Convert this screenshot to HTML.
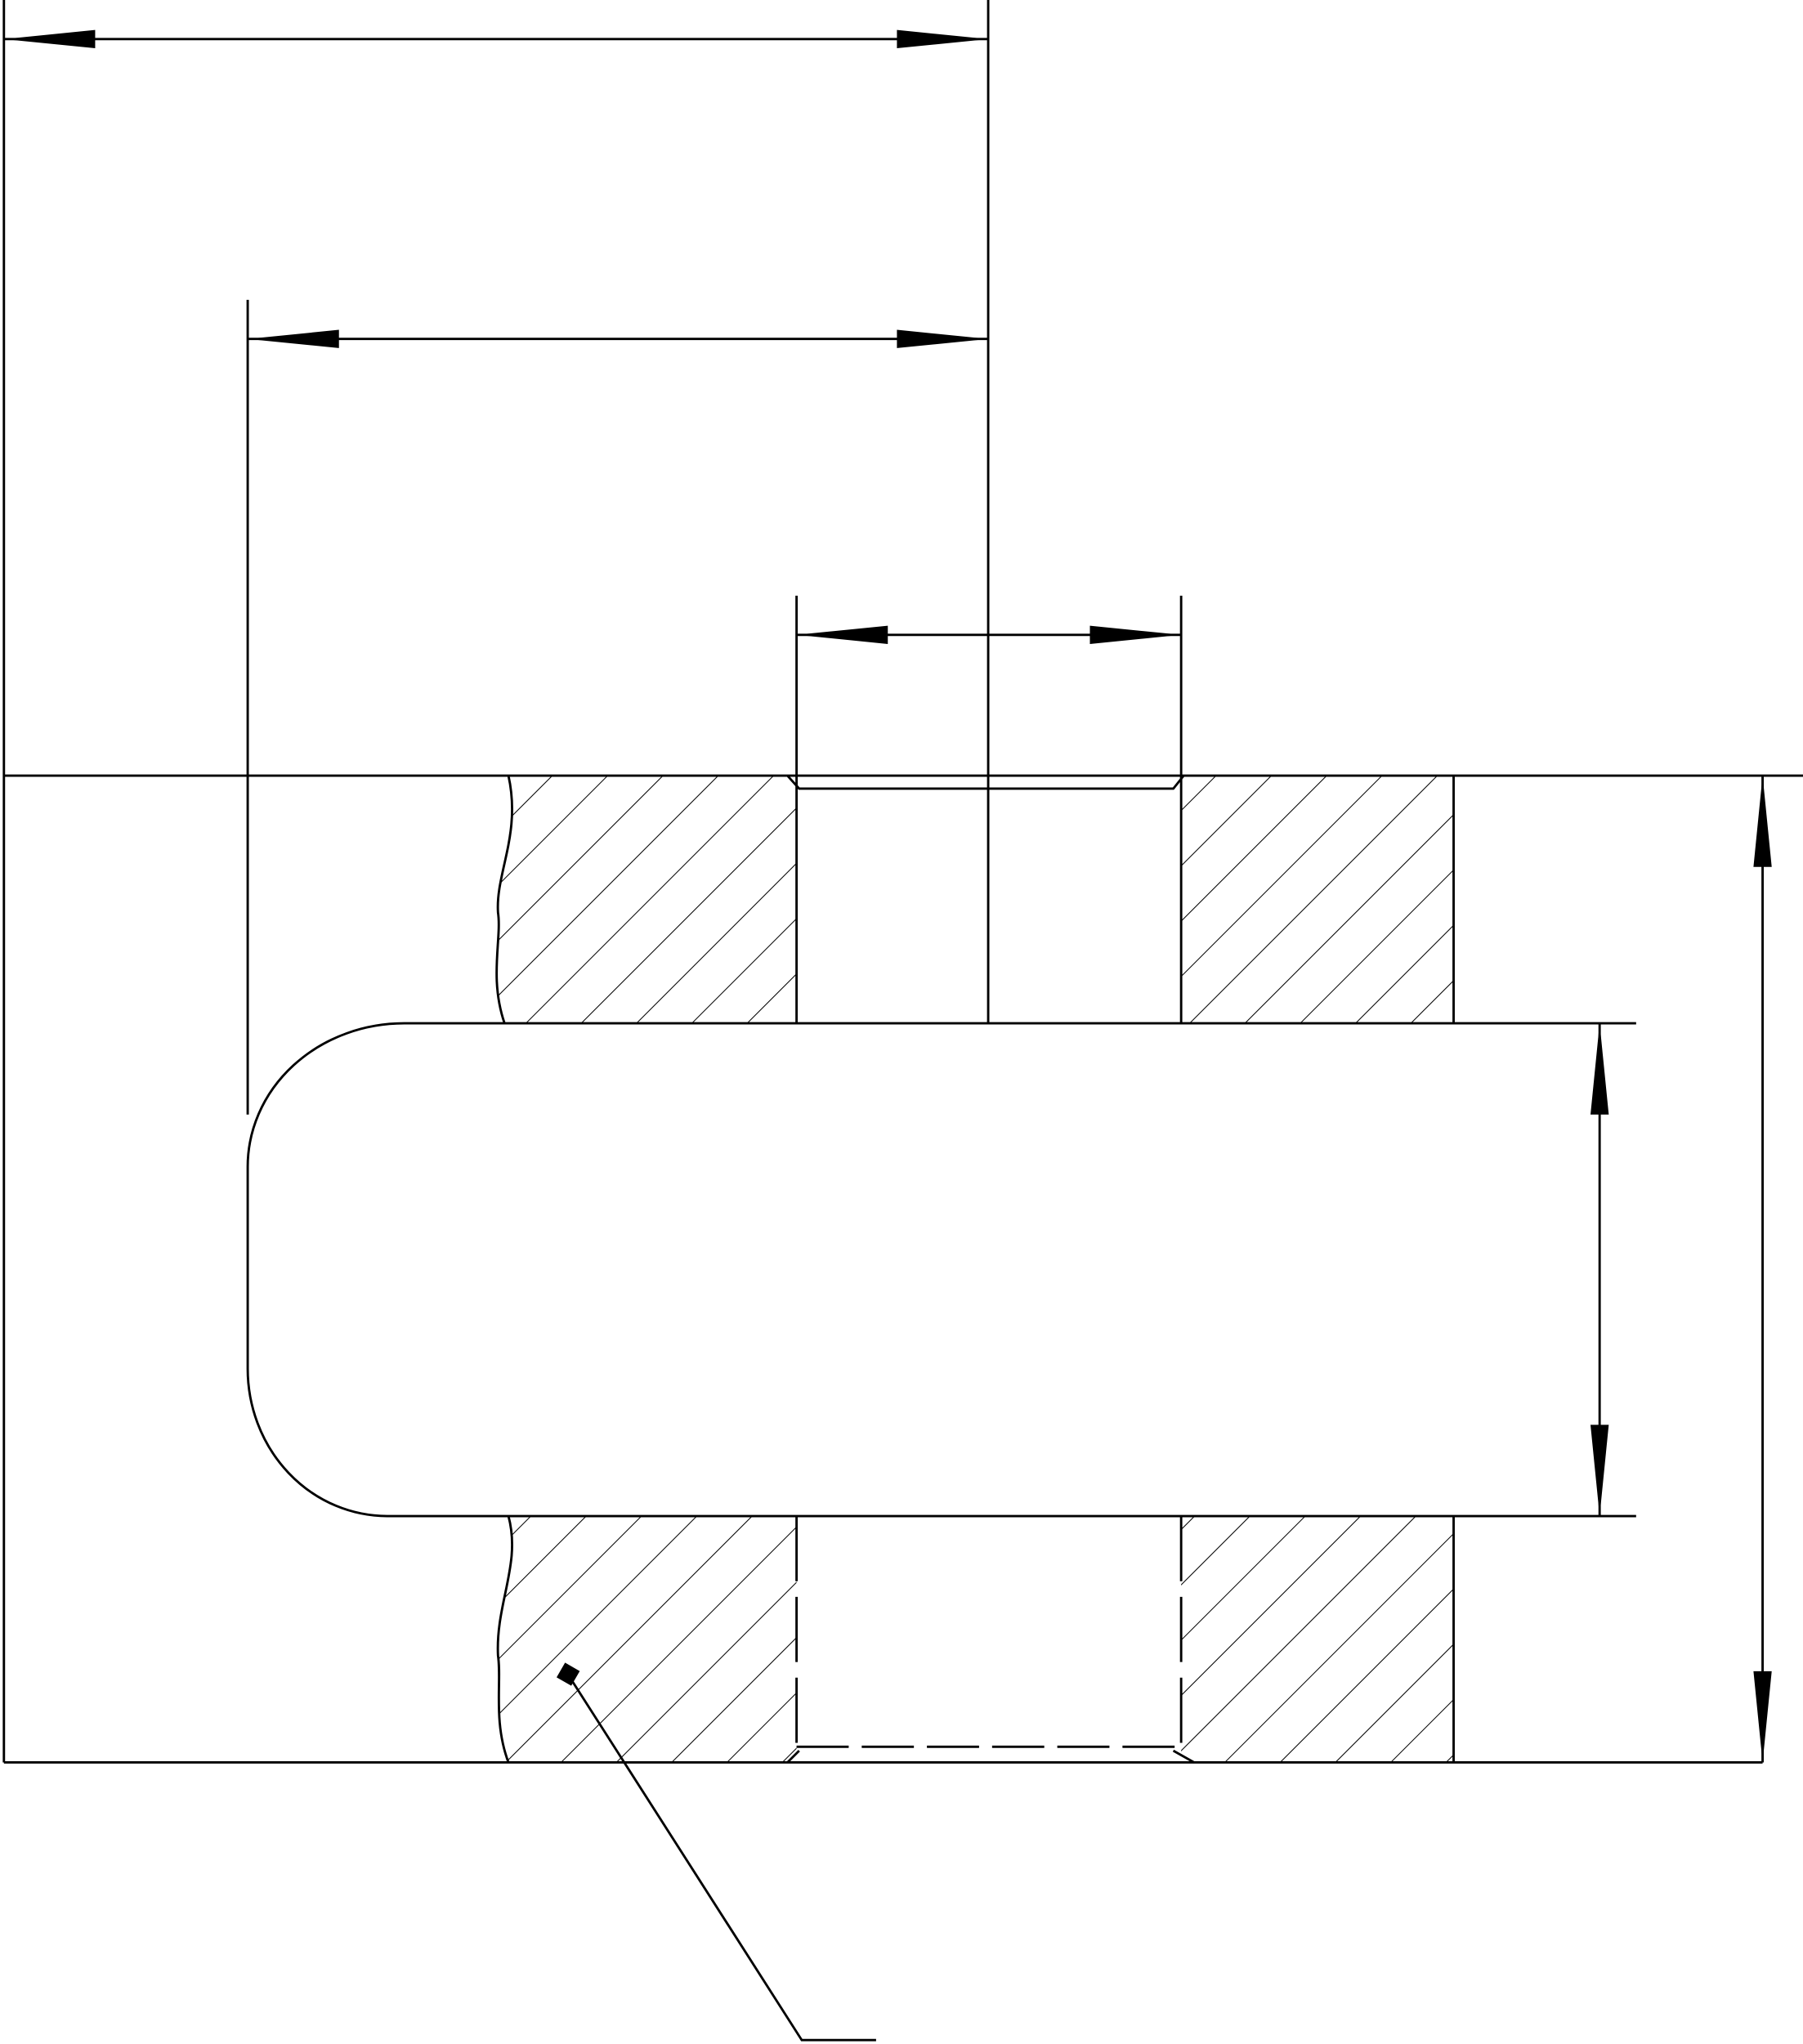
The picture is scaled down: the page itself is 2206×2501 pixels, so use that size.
<!DOCTYPE html>
<html><head><meta charset="utf-8"><style>html,body{margin:0;padding:0;background:#fff}svg{display:block}</style></head>
<body>
<svg width="2206" height="2501" viewBox="0 0 1383 1568" preserveAspectRatio="none" xmlns="http://www.w3.org/2000/svg">
<defs>
<pattern id="h" patternUnits="userSpaceOnUse" width="30" height="30" patternTransform="rotate(45)">
<line x1="0" y1="0" x2="0" y2="30" stroke="#000" stroke-width="1.3"/>
</pattern>
</defs>
<g fill="url(#h)" stroke="none">
<path d="M390,595 L611,595 L611,785 L387,785 C375,750 385,720 382,700 C380,670 400,640 390,595 Z"/>
<path d="M906,595 L1115,595 L1115,785 L906,785 Z"/>
<path d="M390,1163 L611,1163 L611,1352 L390,1352 C378,1320 385,1290 382,1270 C380,1230 400,1200 390,1163 Z"/>
<path d="M906,1163 L1115,1163 L1115,1352 L906,1352 Z"/>
</g>
<g fill="none" stroke="#000" stroke-width="1.8">
<line x1="3" y1="0" x2="3" y2="1352"/>
<line x1="758" y1="0" x2="758" y2="785"/>
<line x1="3" y1="30" x2="758" y2="30"/>
<line x1="190" y1="230" x2="190" y2="855"/>
<line x1="190" y1="260" x2="758" y2="260"/>
<line x1="611" y1="457" x2="611" y2="785"/>
<line x1="906" y1="457" x2="906" y2="785"/>
<line x1="611" y1="487" x2="906" y2="487"/>
<line x1="3" y1="595" x2="1383" y2="595"/>
<line x1="3" y1="1352" x2="1352" y2="1352"/>
<line x1="1115" y1="595" x2="1115" y2="785"/>
<line x1="1115" y1="1163" x2="1115" y2="1352"/>
<path d="M390,595 C400,640 380,670 382,700 C385,720 375,750 387,785"/>
<path d="M390,1163 C400,1200 380,1230 382,1270 C385,1290 378,1320 390,1352"/>
<path d="M604,595 L613,605 L900,605 L908,595"/>
<path d="M1255,785 L310,785 A120,110 0 0 0 190,895 L190,1050 A107,113 0 0 0 297,1163 L1255,1163"/>
<line x1="1352" y1="595" x2="1352" y2="1352"/>
<line x1="1227" y1="785" x2="1227" y2="1163"/>
<path d="M611,1163 L611,1340 M906,1163 L906,1340" stroke-dasharray="50,12"/>
<path d="M611,1340 L906,1340" stroke-dasharray="40,10"/>
<path d="M604,1352 L613,1343 M900,1343 L916,1352"/>
<path d="M436,1285 L615,1565 L672,1565"/>
</g>
<g fill="#000">
<path d="M3,30 L73,23 L73,37 Z"/><path d="M758,30 L688,23 L688,37 Z"/>
<path d="M190,260 L260,253 L260,267 Z"/><path d="M758,260 L688,253 L688,267 Z"/>
<path d="M611,487 L681,480 L681,494 Z"/><path d="M906,487 L836,480 L836,494 Z"/>
<path d="M1352,595 L1345,665 L1359,665 Z"/><path d="M1352,1352 L1345,1282 L1359,1282 Z"/>
<path d="M1227,785 L1220,855 L1234,855 Z"/><path d="M1227,1163 L1220,1093 L1234,1093 Z"/>
<rect x="429" y="1278" width="13" height="13" transform="rotate(30 436 1285)"/>
</g>
</svg>
</body></html>
